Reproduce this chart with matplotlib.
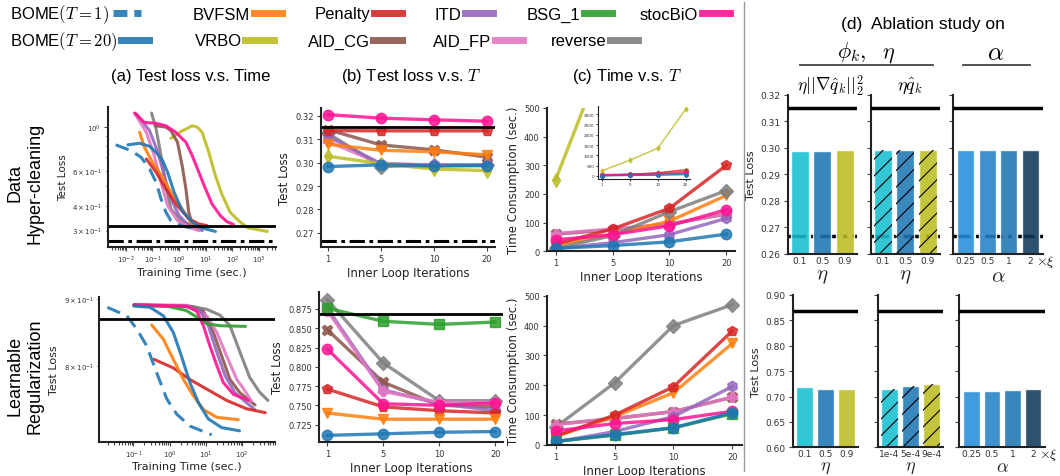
import numpy as np
import matplotlib
matplotlib.use("Agg")
import matplotlib.pyplot as plt
from matplotlib.lines import Line2D

plt.rcParams['mathtext.fontset'] = 'cm'
plt.rcParams['font.family'] = 'DejaVu Sans'
plt.rcParams['hatch.linewidth'] = 0.8
plt.rcParams['axes.labelcolor'] = '#222222'

W, H = 1060, 477

# ---------------- data ----------------
iter_labels = ['1', '5', '10', '20']

# (a) data hyper-cleaning, test loss vs training time
hc_bome1_t = [0.0042, 0.016, 0.038, 0.078, 0.137, 0.21, 0.32, 0.49, 1.3, 4.2]
hc_bome1_y = [0.81, 0.757, 0.70, 0.613, 0.526, 0.433, 0.371, 0.337, 0.316, 0.306]
hc_bome20_t = [0.012, 0.033, 0.078, 0.137, 0.24, 0.37, 0.65, 1.3, 3.1, 7.3, 23]
hc_bome20_y = [0.81, 0.825, 0.797, 0.743, 0.675, 0.59, 0.468, 0.378, 0.331, 0.309, 0.297]
hc_bvfsm_t = [0.033, 0.05, 0.10, 0.24, 0.49, 1.3, 2.7, 4.2]
hc_bvfsm_y = [0.937, 0.788, 0.662, 0.557, 0.468, 0.386, 0.331, 0.312]
hc_penalty_t = [0.059, 0.137, 0.32, 0.75, 2.3, 5.5, 11]
hc_penalty_y = [0.688, 0.59, 0.486, 0.409, 0.344, 0.324, 0.318]
hc_itd_t = [0.025, 0.078, 0.16, 0.28, 0.49, 1.0, 2.3, 7.3]
hc_itd_y = [1.16, 0.955, 0.743, 0.567, 0.433, 0.357, 0.318, 0.30]
hc_aidfp_t = [0.0215, 0.059, 0.117, 0.21, 0.37, 0.87, 2.3, 5.5]
hc_aidfp_y = [1.17, 0.937, 0.715, 0.526, 0.401, 0.337, 0.312, 0.30]
hc_reverse_t = [0.093, 0.137, 0.21, 0.32, 0.49, 1.3, 4.2, 9.8]
hc_reverse_y = [1.17, 0.974, 0.715, 0.506, 0.386, 0.331, 0.316, 0.312]
hc_aidcg_t = [0.13, 0.32, 0.49, 0.87, 1.3, 1.8, 2.3, 3.1, 4.8]
hc_aidcg_y = [1.01, 0.995, 0.955, 0.835, 0.637, 0.486, 0.371, 0.324, 0.309]
hc_stocbio_t = [0.0215, 0.05, 0.137, 0.32, 0.75, 1.8, 3.1, 5.5, 9.8, 17, 35, 61, 110]
hc_stocbio_y = [1.17, 1.05, 1.04, 1.01, 0.937, 0.835, 0.715, 0.59, 0.486, 0.409, 0.357, 0.333, 0.322]
hc_vrbo_t = [0.49, 1.15, 3.1, 4.8, 7.3, 13, 23, 40, 82, 195, 390, 2050]
hc_vrbo_y = [0.874, 0.944, 1.01, 0.995, 0.937, 0.743, 0.567, 0.458, 0.371, 0.331, 0.309, 0.297]

# (a) learnable regularization
lr_bome1_t = [0.0192, 0.066, 0.124, 0.234, 0.44, 0.83, 1.57, 3.6, 14.4]
lr_bome1_y = [0.887, 0.874, 0.854, 0.829, 0.791, 0.756, 0.736, 0.721, 0.710]
lr_bome20_t = [0.104, 0.29, 0.67, 1.26, 2.1, 3.6, 6.2, 11.6, 27, 84]
lr_bome20_y = [0.889, 0.887, 0.874, 0.849, 0.815, 0.778, 0.751, 0.730, 0.719, 0.715]
lr_bvfsm_t = [0.32, 0.67, 1.26, 2.4, 4.5, 8.5, 20, 78]
lr_bvfsm_y = [0.860, 0.839, 0.810, 0.782, 0.760, 0.742, 0.732, 0.729]
lr_penalty_t = [0.37, 1.26, 3.6, 10.5, 37, 132, 430]
lr_penalty_y = [0.810, 0.798, 0.782, 0.769, 0.754, 0.743, 0.738]
lr_bsg_t = [0.104, 0.83, 2.9, 5.6, 10.5, 24.5, 124]
lr_bsg_y = [0.891, 0.889, 0.882, 0.872, 0.862, 0.859, 0.858]
lr_stocbio_t = [0.104, 2.9, 5.6, 8.5, 12.9, 20, 30, 57, 148]
lr_stocbio_y = [0.891, 0.889, 0.881, 0.859, 0.829, 0.801, 0.778, 0.762, 0.754]
lr_itd_t = [0.104, 3.0, 6.9, 11.6, 20, 34, 63, 220]
lr_itd_y = [0.890, 0.888, 0.882, 0.859, 0.820, 0.787, 0.764, 0.742]
lr_aidcg_t = [0.104, 4.0, 8.5, 16, 27, 46, 87, 225]
lr_aidcg_y = [0.890, 0.888, 0.881, 0.849, 0.815, 0.782, 0.764, 0.748]
lr_aidfp_t = [0.104, 2.9, 10.5, 20, 37, 71, 100, 180]
lr_aidfp_y = [0.890, 0.890, 0.874, 0.849, 0.815, 0.782, 0.772, 0.753]
lr_reverse_t = [0.104, 2.9, 10.5, 24.5, 46, 87, 160, 300, 510]
lr_reverse_y = [0.891, 0.890, 0.884, 0.875, 0.859, 0.82, 0.785, 0.765, 0.754]

# (b) test loss vs T, hyper-cleaning
hcT_bome = [0.2983, 0.2990, 0.2985, 0.2987]
hcT_bvfsm = [0.3078, 0.3052, 0.3046, 0.3033]
hcT_penalty = [0.3136, 0.3135, 0.3135, 0.3135]
hcT_itd = [0.3112, 0.2995, 0.2988, 0.2988]
hcT_vrbo = [0.3027, 0.2995, 0.2972, 0.2966]
hcT_aidcg = [0.3140, 0.3075, 0.3054, 0.3023]
hcT_aidfp = [0.3090, 0.2995, 0.2990, 0.2990]
hcT_reverse = [0.3125, 0.2983, 0.2990, 0.2990]
hcT_stocbio = [0.3204, 0.3189, 0.3182, 0.3176]

# (b) test loss vs T, learnable regularization
lrT_bome = [0.711, 0.713, 0.715, 0.716]
lrT_bvfsm = [0.740, 0.732, 0.732, 0.732]
lrT_penalty = [0.771, 0.748, 0.743, 0.740]
lrT_itd = [0.876, 0.770, 0.752, 0.743]
lrT_bsg = [0.876, 0.859, 0.855, 0.858]
lrT_aidcg = [0.848, 0.780, 0.750, 0.748]
lrT_aidfp = [0.873, 0.768, 0.754, 0.754]
lrT_reverse = [0.887, 0.805, 0.756, 0.756]
lrT_stocbio = [0.823, 0.752, 0.750, 0.753]

# (c) time consumption vs T
hcC_bome = [10, 20, 33, 60]
hcC_bvfsm = [20, 60, 105, 195]
hcC_penalty = [25, 78, 150, 300]
hcC_itd = [10, 30, 58, 115]
hcC_vrbo = [250, 760, 1350, 3250]
hcC_aidcg = [60, 75, 95, 130]
hcC_aidfp = [62, 78, 95, 130]
hcC_reverse = [10, 55, 138, 212]
hcC_stocbio = [40, 58, 89, 145]

lrC_bome = [12, 35, 58, 108]
lrC_bvfsm = [28, 95, 175, 340]
lrC_penalty = [30, 100, 195, 382]
lrC_itd = [10, 45, 95, 196]
lrC_bsg = [12, 33, 57, 105]
lrC_aidcg = [70, 88, 112, 160]
lrC_aidfp = [68, 90, 112, 160]
lrC_reverse = [60, 208, 400, 470]
lrC_stocbio = [47, 72, 85, 113]

# reference loss levels
hc_ref_loss = 0.315
hc_opt_loss = 0.2665
lr_ref_loss = 0.869

# (d) ablation
eta_labels = ['0.1', '0.5', '0.9']
eta_reg_labels = ['1e-4', '5e-4', '9e-4']
alpha_labels = ['0.25', '0.5', '1', '2']
hc_abl_grad = [0.2988, 0.2988, 0.2990]
hc_abl_q = [0.2990, 0.2990, 0.2990]
hc_abl_alpha = [0.2993, 0.2993, 0.2993, 0.2993]
lr_abl_grad = [0.719, 0.714, 0.714]
lr_abl_q = [0.714, 0.720, 0.724]
lr_abl_alpha = [0.710, 0.711, 0.713, 0.715]

# legend entries
leg_keys = ['bome1', 'bvfsm', 'penalty', 'itd', 'bsg', 'stocbio',
            'bome', 'vrbo', 'aidcg', 'aidfp', 'reverse']
leg_labels = [r'BOME$(T=1)$', 'BVFSM', 'Penalty', 'ITD', 'BSG_1', 'stocBiO',
              r'BOME$(T=20)$', 'VRBO', 'AID_CG', 'AID_FP', 'reverse']

# ---------------- styles ----------------
col = {'bome': '#1f77b4', 'bome1': '#1f77b4', 'bvfsm': '#ff7f0e', 'penalty': '#d62728',
       'itd': '#9467bd', 'bsg': '#2ca02c', 'stocbio': '#ff1493', 'vrbo': '#bcbd22',
       'aidcg': '#8c564b', 'aidfp': '#e377c2', 'reverse': '#7f7f7f'}
mk = {'bome': 'o', 'bvfsm': 'v', 'penalty': 'p', 'itd': 'h', 'bsg': 's', 'stocbio': 'o',
      'vrbo': 'd', 'aidcg': 'X', 'aidfp': 'P', 'reverse': 'D'}
eta_cols = ['#17becf', '#1f77b4', '#bcbd22']
alpha_cols = ['#258eda', '#2482c7', '#1f77b4', '#0e3a5b']
DASHDOT = (0, (5, 1.5, 1.2, 1.5))
sans = 'Liberation Sans'

fig = plt.figure(figsize=(10.6, 4.77), dpi=100)


def ax_at(x0, x1, top, bottom):
    return fig.add_axes([x0 / W, 1 - bottom / H, (x1 - x0) / W, (bottom - top) / H])


def style(ax, ls=6):
    for s in ['top', 'right']:
        ax.spines[s].set_visible(False)
    for s in ['left', 'bottom']:
        ax.spines[s].set_linewidth(1.5)
        ax.spines[s].set_color('#222222')
    ax.tick_params(which='both', labelsize=ls, width=0.8, color='#444444', pad=2, labelcolor='#333333')
    ax.tick_params(which='major', length=3)
    ax.tick_params(which='minor', length=1.8)


def tcurve(ax, t, y, key, **kw):
    ax.plot(t, y, color=col[key], lw=2.2, alpha=0.9, solid_capstyle='round', **kw)


def iter_line(ax, vals, key, ms=7.5, lw=2.4):
    ax.plot(np.arange(len(vals)), vals, color=col[key], marker=mk[key], lw=lw, ms=ms, alpha=0.85)


# ---- (a) top
ax = ax_at(107.7, 276, 108, 248)
style(ax, 5)
ax.set_xscale('log')
ax.set_yscale('log')
tcurve(ax, hc_vrbo_t, hc_vrbo_y, 'vrbo')
tcurve(ax, hc_reverse_t, hc_reverse_y, 'reverse')
tcurve(ax, hc_aidcg_t, hc_aidcg_y, 'aidcg')
tcurve(ax, hc_itd_t, hc_itd_y, 'itd')
tcurve(ax, hc_aidfp_t, hc_aidfp_y, 'aidfp')
tcurve(ax, hc_bvfsm_t, hc_bvfsm_y, 'bvfsm')
tcurve(ax, hc_penalty_t, hc_penalty_y, 'penalty')
tcurve(ax, hc_stocbio_t, hc_stocbio_y, 'stocbio')
tcurve(ax, hc_bome20_t, hc_bome20_y, 'bome')
tcurve(ax, hc_bome1_t, hc_bome1_y, 'bome', ls=(0, (4.5, 2.5)))
ax.axhline(hc_ref_loss, color='k', lw=2)
ax.axhline(hc_opt_loss, color='k', lw=2.2, ls=DASHDOT)
ax.set_xlim(0.0021, 4300)
ax.set_ylim(0.248, 1.256)
ax.set_xlabel('Training Time (sec.)', fontsize=8, labelpad=1)
ax.set_ylabel('Test Loss', fontsize=7.5, labelpad=3)

# ---- (a) bottom
ax = ax_at(99.3, 275, 298.3, 442.7)
style(ax, 5)
ax.set_xscale('log')
ax.set_yscale('log')
tcurve(ax, lr_reverse_t, lr_reverse_y, 'reverse')
tcurve(ax, lr_aidcg_t, lr_aidcg_y, 'aidcg')
tcurve(ax, lr_aidfp_t, lr_aidfp_y, 'aidfp')
tcurve(ax, lr_itd_t, lr_itd_y, 'itd')
tcurve(ax, lr_bsg_t, lr_bsg_y, 'bsg')
tcurve(ax, lr_stocbio_t, lr_stocbio_y, 'stocbio')
tcurve(ax, lr_penalty_t, lr_penalty_y, 'penalty')
tcurve(ax, lr_bvfsm_t, lr_bvfsm_y, 'bvfsm')
tcurve(ax, lr_bome20_t, lr_bome20_y, 'bome')
tcurve(ax, lr_bome1_t, lr_bome1_y, 'bome', ls=(0, (4.5, 2.5)))
ax.axhline(lr_ref_loss, color='k', lw=2)
ax.set_xlim(0.0115, 800)
ax.set_ylim(0.7015, 0.9027)
ax.set_xlabel('Training Time (sec.)', fontsize=8, labelpad=1)
ax.set_ylabel('Test Loss', fontsize=8, labelpad=3)

# ---- (b) top
ax = ax_at(321, 495, 109.3, 248.3)
style(ax)
for vals, key in [(hcT_reverse, 'reverse'), (hcT_aidcg, 'aidcg'), (hcT_aidfp, 'aidfp'),
                  (hcT_itd, 'itd'), (hcT_vrbo, 'vrbo'), (hcT_bvfsm, 'bvfsm'),
                  (hcT_penalty, 'penalty'), (hcT_stocbio, 'stocbio'), (hcT_bome, 'bome')]:
    iter_line(ax, vals, key)
ax.axhline(hc_ref_loss, color='k', lw=2)
ax.axhline(hc_opt_loss, color='k', lw=2.2, ls=DASHDOT)
ax.set_xticks(range(4), iter_labels)
ax.set_yticks([0.27, 0.28, 0.29, 0.30, 0.31, 0.32])
ax.set_xlim(-0.13, 3.15)
ax.set_ylim(0.2639, 0.3231)
ax.set_xlabel('Inner Loop Iterations', fontsize=8.5, labelpad=2)
ax.set_ylabel('Test Loss', fontsize=8.5, labelpad=3)

# ---- (b) bottom
ax = ax_at(319.3, 503, 292.7, 443.3)
style(ax)
for vals, key in [(lrT_reverse, 'reverse'), (lrT_aidcg, 'aidcg'), (lrT_itd, 'itd'),
                  (lrT_aidfp, 'aidfp'), (lrT_bsg, 'bsg'), (lrT_penalty, 'penalty'),
                  (lrT_bvfsm, 'bvfsm'), (lrT_stocbio, 'stocbio'), (lrT_bome, 'bome')]:
    iter_line(ax, vals, key)
ax.axhline(lr_ref_loss, color='k', lw=2)
ax.set_xticks(range(4), iter_labels)
ax.set_yticks([0.725, 0.75, 0.775, 0.8, 0.825, 0.85, 0.875])
ax.set_xlim(-0.143, 3.14)
ax.set_ylim(0.702, 0.8974)
ax.set_xlabel('Inner Loop Iterations', fontsize=8.5, labelpad=2)
ax.set_ylabel('Test Loss', fontsize=8.5, labelpad=3)

# ---- (c) top
ax = ax_at(546.7, 735, 109, 252.3)
style(ax)
hc_time = [(hcC_vrbo, 'vrbo'), (hcC_aidcg, 'aidcg'), (hcC_aidfp, 'aidfp'), (hcC_itd, 'itd'),
           (hcC_bvfsm, 'bvfsm'), (hcC_reverse, 'reverse'), (hcC_penalty, 'penalty'),
           (hcC_stocbio, 'stocbio'), (hcC_bome, 'bome')]
for vals, key in hc_time:
    iter_line(ax, vals, key)
ax.set_xticks(range(4), iter_labels)
ax.set_yticks(range(0, 501, 100))
ax.set_xlim(-0.158, 3.153)
ax.set_ylim(0, 500)
ax.set_xlabel('Inner Loop Iterations', fontsize=8.5, labelpad=2)
ax.set_ylabel('Time Consumption (sec.)', fontsize=8.5, labelpad=3)

# inset with the full range
axi = ax_at(597.7, 690, 106.7, 180)
style(axi, 3)
for s in ['left', 'bottom']:
    axi.spines[s].set_linewidth(0.8)
for vals, key in hc_time:
    iter_line(axi, vals, key, ms=2.5, lw=1)
axi.set_xticks(range(4), iter_labels)
axi.set_yticks(range(0, 3001, 500))
axi.tick_params(length=1.5, pad=1)

# ---- (c) bottom
ax = ax_at(546.7, 742, 296.7, 446)
style(ax)
for vals, key in [(lrC_reverse, 'reverse'), (lrC_aidcg, 'aidcg'), (lrC_aidfp, 'aidfp'),
                  (lrC_itd, 'itd'), (lrC_bvfsm, 'bvfsm'), (lrC_penalty, 'penalty'),
                  (lrC_stocbio, 'stocbio'), (lrC_bsg, 'bsg'), (lrC_bome, 'bome')]:
    iter_line(ax, vals, key)
ax.set_xticks(range(4), iter_labels)
ax.set_yticks(range(0, 501, 100))
ax.set_xlim(-0.153, 3.165)
ax.set_ylim(0, 500)
ax.set_xlabel('Inner Loop Iterations', fontsize=8.5, labelpad=2)
ax.set_ylabel('Time Consumption (sec.)', fontsize=8.5, labelpad=3)


# ---- (d) ablation bars
def abl(ax, vals, labels, colors, xl, hatch=None, ref=None, opt=None, first=False,
        xl_size=15, xl_pad=0, tick_pad=1.5):
    style(ax, 6.5)
    x = np.arange(len(vals))
    ax.bar(x, vals, width=0.8, color=colors, alpha=0.88, edgecolor='white', linewidth=1, zorder=2)
    if hatch:
        ax.bar(x, vals, width=0.8, facecolor='none', edgecolor='black', linewidth=0,
               hatch=hatch, zorder=2.5)
    if ref is not None:
        ax.axhline(ref, color='k', lw=2.5, zorder=3)
    if opt is not None:
        ax.axhline(opt, color='k', lw=2.5, ls=DASHDOT, zorder=1)
    ax.set_xticks(x, labels)
    ax.tick_params(axis='x', length=0, pad=tick_pad)
    ax.set_xlabel(xl, fontsize=xl_size, labelpad=xl_pad)
    if not first:
        ax.tick_params(labelleft=False)


top_d = [(787.7, 857), (870.7, 940), (953, 1043)]
bot_d = [(792.7, 858), (877.7, 943), (959.3, 1045)]
hc_sets = [(hc_abl_grad, eta_labels, eta_cols, r'$\eta$', None),
           (hc_abl_q, eta_labels, eta_cols, r'$\eta$', '//'),
           (hc_abl_alpha, alpha_labels, alpha_cols, r'$\alpha$', None)]
lr_sets = [(lr_abl_grad, eta_labels, eta_cols, r'$\eta$', None),
           (lr_abl_q, eta_reg_labels, eta_cols, r'$\eta$', '//'),
           (lr_abl_alpha, alpha_labels, alpha_cols, r'$\alpha$', None)]
for i, ((x0, x1), (vals, labs, cs, xl, ht)) in enumerate(zip(top_d, hc_sets)):
    ax = ax_at(x0, x1, 95.7, 254.7)
    abl(ax, vals, labs, cs, xl, ht, hc_ref_loss, hc_opt_loss, first=(i == 0))
    ax.set_ylim(0.26, 0.32)
    ax.set_yticks([0.26, 0.27, 0.28, 0.29, 0.30, 0.31, 0.32])
    if i == 0:
        ax.set_ylabel('Test Loss', fontsize=8, labelpad=3)
for i, ((x0, x1), (vals, labs, cs, xl, ht)) in enumerate(zip(bot_d, lr_sets)):
    ax = ax_at(x0, x1, 296, 448.3)
    abl(ax, vals, labs, cs, xl, ht, lr_ref_loss, None, first=(i == 0),
        xl_size=13, xl_pad=-0.5, tick_pad=1)
    ax.set_ylim(0.60, 0.90)
    ax.set_yticks([0.60, 0.65, 0.70, 0.75, 0.80, 0.85, 0.90])
    if i == 0:
        ax.set_ylabel('Test Loss', fontsize=8, labelpad=3)

# ---- figure texts
fig.text(191 / W, 1 - 77 / H, '(a) Test loss v.s. Time', fontsize=12, family=sans, ha='center', va='center')
fig.text(411 / W, 1 - 77 / H, r'(b) Test loss v.s. $T$', fontsize=12, family=sans, ha='center', va='center')
fig.text(627 / W, 1 - 77 / H, r'(c) Time v.s. $T$', fontsize=12, family=sans, ha='center', va='center')
fig.text(25 / W, 1 - 183 / H, 'Data\nHyper-cleaning', fontsize=13, family=sans, rotation=90,
         ha='center', va='center', multialignment='center')
fig.text(25 / W, 1 - 376 / H, 'Learnable\nRegularization', fontsize=13, family=sans, rotation=90,
         ha='center', va='center', multialignment='center')
fig.text(923 / W, 1 - 25 / H, '(d)  Ablation study on', fontsize=12.5, family=sans, ha='center', va='center')
fig.text(866 / W, 1 - 53 / H, r'$\phi_k,\ \ \eta$', fontsize=16, ha='center', va='center')
fig.text(996 / W, 1 - 53 / H, r'$\alpha$', fontsize=18, ha='center', va='center')
fig.add_artist(Line2D([800 / W, 933 / W], [1 - 65.7 / H] * 2, color='#444444', lw=1.3))
fig.add_artist(Line2D([963 / W, 1030 / W], [1 - 65.7 / H] * 2, color='#444444', lw=1.3))
fig.text(830 / W, 1 - 86 / H, r'$\eta||\nabla\hat{q}_k||_2^2$', fontsize=12.5, ha='center', va='center')
fig.text(910 / W, 1 - 86 / H, r'$\eta\hat{q}_k$', fontsize=13, ha='center', va='center')
fig.text(1036 / W, 1 - 262 / H, r'$\times\xi$', fontsize=10, ha='left', va='center')
fig.text(1039 / W, 1 - 455 / H, r'$\times\xi$', fontsize=10, ha='left', va='center')
fig.add_artist(Line2D([744 / W] * 2, [1 - 3 / H, 1 - 472 / H], color='#999999', lw=1))

# ---- legend: one entry per slot, text followed by its handle
leg_x = [10, 193, 315, 435, 527, 640, 10, 195, 308, 433, 551]
leg_y = [15] * 6 + [42] * 5
for key, lab, lx, ly in zip(leg_keys, leg_labels, leg_x, leg_y):
    ls = (0, (2, 1)) if key == 'bome1' else '-'
    hd = Line2D([], [], color=col[key], lw=5, alpha=0.9, ls=ls)
    fig.legend([hd], [lab], loc='center left', bbox_to_anchor=(lx / W, 1 - ly / H),
               markerfirst=False, frameon=False, prop={'family': sans, 'size': 12},
               handlelength=1.7, handletextpad=0.2, borderpad=0, borderaxespad=0)

fig.savefig('out.png', dpi=100)
